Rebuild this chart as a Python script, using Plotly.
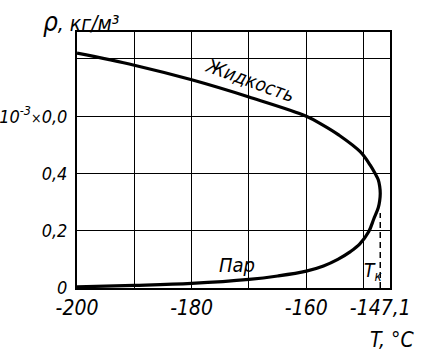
import plotly.graph_objects as go

# Data
liquid_T = [-200, -190, -180, -170, -160, -157.1, -154.3, -150.6, -148.85, -147.95, -147.45, -147.2, -147.1]
liquid_rho = [0.820, 0.778, 0.727, 0.667, 0.600, 0.569, 0.534, 0.476, 0.429, 0.398, 0.378, 0.355, 0.330]
vapor_T = [-147.1, -147.2, -147.45, -148.25, -149.1, -150.7, -152.3, -154.5, -157, -160, -165, -170, -180, -190, -200]
vapor_rho = [0.330, 0.305, 0.280, 0.240, 0.197, 0.153, 0.127, 0.100, 0.077, 0.059, 0.042, 0.030, 0.016, 0.009, 0.004]
T_crit = -147.1
dash_rho = [0.0, 0.262]

x_tickvals = [-200, -180, -160, T_crit]
x_ticktext = ["-200", "-180", "-160", "-147,1"]
y_tickvals = [0, 0.2, 0.4, 0.6]
y_ticktext = ["0", "0,2", "0,4",
              "10<sup>-3</sup><span style='font-size:14px'>×</span>0,0"]

FONT = "Liberation Sans Narrow, DejaVu Sans Condensed, Arial Narrow, sans-serif"

curve_T = vapor_T[::-1] + liquid_T[::-1][1:]
curve_rho = vapor_rho[::-1] + liquid_rho[::-1][1:]

fig = go.Figure()
fig.add_trace(go.Scatter(x=curve_T, y=curve_rho, mode="lines",
                         line=dict(color="black", width=3.2, shape="spline", smoothing=1.0),
                         hoverinfo="skip", showlegend=False))
fig.add_trace(go.Scatter(x=[T_crit, T_crit], y=dash_rho, mode="lines",
                         line=dict(color="black", width=1.5, dash="6px,4px"),
                         hoverinfo="skip", showlegend=False))

fig.update_layout(
    width=422, height=354,
    margin=dict(l=77, r=32, t=32, b=66),
    paper_bgcolor="white", plot_bgcolor="white",
    font=dict(family=FONT, color="black"),
    xaxis=dict(range=[-200, -145.4], tickvals=x_tickvals, ticktext=x_ticktext,
               automargin=False,
               showgrid=False, zeroline=False, showline=True, mirror=True,
               linecolor="black", linewidth=2, ticks="", ticklen=0,
               tickfont=dict(family=FONT, size=21, style="italic"),
               minor=dict(dtick=10, tick0=-200, showgrid=True, gridcolor="black",
                          gridwidth=1.3, ticks="")),
    yaxis=dict(range=[0, 0.894], tickvals=y_tickvals, ticktext=y_ticktext,
               automargin=False, ticklabelstandoff=4,
               showgrid=False, zeroline=False, showline=True, mirror=True,
               linecolor="black", linewidth=2, ticks="", ticklen=0,
               tickfont=dict(family=FONT, size=18, style="italic"),
               minor=dict(dtick=0.2, tick0=0, showgrid=True, gridcolor="black",
                          gridwidth=1.3, ticks="")),
)

fig.add_annotation(x=-169.8, y=0.726, text="Жидкость", showarrow=False, textangle=20,
                   font=dict(family=FONT, size=19, style="italic"))
fig.add_annotation(x=-172.1, y=0.080, text="Пар", showarrow=False,
                   font=dict(family=FONT, size=20, style="italic"))
fig.add_annotation(x=-148.4, y=0.059, text="T<sub>к</sub>", showarrow=False,
                   font=dict(family=FONT, size=19, style="italic"))
fig.add_annotation(xref="paper", yref="paper", x=0.013, y=1.039, text="<span style='font-size:26px'>ρ</span>, кг/м³",
                   xanchor="center", yanchor="middle",
                   showarrow=False, font=dict(family=FONT, size=21, style="italic"))
fig.add_annotation(xref="paper", yref="paper", x=1.006, y=-0.203, text="T, °C",
                   xanchor="center", yanchor="middle",
                   showarrow=False, font=dict(family=FONT, size=21, style="italic"))

fig.write_html("out.html")
